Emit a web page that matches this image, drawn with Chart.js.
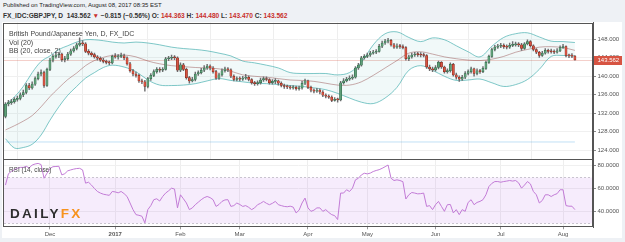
<!DOCTYPE html>
<html>
<head>
<meta charset="utf-8">
<script src="https://cdn.jsdelivr.net/npm/chart.js@4.4.1/dist/chart.umd.min.js"></script>
<style>
html, body { margin: 0; padding: 0; }
body { width: 625px; height: 242px; background: #eef1f5; position: relative; overflow: hidden; font-family: 'Liberation Sans', Arial, sans-serif; }
#panel { position: absolute; left: 2px; top: 22px; width: 620px; height: 216px; background: #fff; }
.hdr { position: absolute; left: 3px; font-size: 6.6px; line-height: 7px; font-weight: bold; color: #333; white-space: nowrap; }
.red { color: #c9302c; }
.leg { position: absolute; left: 9px; font-size: 7px; line-height: 7px; color: #444; white-space: nowrap; }
#c1 { position: absolute; left: 0; top: 22px; }
#c2 { position: absolute; left: 0; top: 159px; }
#logo { position: absolute; left: 10px; top: 206.5px; font-size: 13.5px; line-height: 14px; font-weight: bold; letter-spacing: 2.3px; color: #2e2e2e; }
#logo span { color: #f7931e; }
</style>
</head>
<body>
<div id="panel"></div>
<div class="hdr" style="top:2px;font-size:6px;font-weight:normal;color:#222">Published on TradingView.com, August 08, 2017 08:35 EST</div>
<div class="hdr" style="top:12px">FX_IDC:GBPJPY, D&nbsp; 143.562 <span class="red">▼</span> −0.815 (−0.56%) O: <span class="red">144.363</span> H: <span class="red">144.480</span> L: <span class="red">143.470</span> C: <span class="red">143.562</span></div>
<canvas id="c1" width="625" height="138"></canvas>
<canvas id="c2" width="625" height="83"></canvas>
<div class="leg" style="top:30.3px">British Pound/Japanese Yen, D, FX_IDC</div>
<div class="leg" style="top:38.6px">Vol (20)</div>
<div class="leg" style="top:47.2px">BB (20, close, 2)</div>
<div class="leg" style="top:165.5px;font-size:6.4px">RSI (14, close)</div>
<div id="logo">DAILY<span>FX</span></div>
<script>
// ===== datos: barras diarias 10 nov 2016 -> 8 ago 2017 (indice = barra) =====
const monthTicks = [15, 37, 59, 79, 102, 122, 145, 167, 188];
const monthLabels = ["Dec", "2017", "Feb", "Mar", "Apr", "May", "Jun", "Jul", "Aug"];
const priceTicks = [124, 128, 132, 136, 140, 144, 148];
const rsiTicks = [40, 60, 80];
const rsiBand = [30, 70];
const lastClose = 143.562;

const open = [
131.3,134.0,134.3,134.5,135.0,135.2,136.0,136.5,138.0,137.5,
138.3,139.5,140.5,140.8,138.0,141.5,143.5,144.3,144.6,144.8,
143.6,143.8,144.8,145.5,146.0,146.8,147.2,147.0,145.4,145.0,
144.7,144.2,143.9,143.5,143.2,143.0,142.9,144.3,144.2,144.3,
144.4,144.0,142.7,141.2,140.5,140.2,139.0,138.8,137.8,139.5,
140.2,141.0,141.5,141.3,141.5,143.8,143.9,144.1,144.0,141.3,
142.5,141.5,139.7,139.0,139.3,140.5,140.8,141.3,141.8,142.2,
141.8,141.0,139.6,140.3,141.2,141.6,141.4,140.0,139.3,139.5,
139.4,139.6,139.8,139.3,138.6,138.4,138.6,139.2,139.5,139.3,
138.6,138.9,139.0,138.5,138.0,137.8,137.7,137.5,137.6,137.3,
137.5,138.5,139.0,137.6,137.0,136.8,137.0,136.6,135.9,135.7,
135.5,134.8,135.0,134.9,138.6,139.0,139.4,139.6,139.8,141.8,
142.4,144.0,144.3,144.6,145.0,145.2,145.4,146.5,147.2,147.6,
147.8,146.8,146.3,146.5,146.4,146.2,143.8,144.2,144.6,144.8,
144.7,144.6,144.5,142.0,141.6,141.4,141.9,143.0,142.0,141.0,
141.2,142.6,140.3,139.8,139.4,139.8,140.6,141.0,141.6,140.6,
141.2,141.0,141.7,143.0,144.3,145.8,146.3,146.5,146.7,146.4,
146.3,146.7,146.8,147.0,146.8,146.0,147.0,147.5,146.6,145.8,
145.2,144.5,145.0,145.6,145.4,145.3,145.2,145.5,146.2,146.4,
144.5,144.4,144.363
];
const high = [
134.3,134.8,135.0,135.4,135.7,136.4,137.0,138.4,138.5,138.8,
139.9,140.9,141.4,141.1,141.8,143.9,144.7,145.1,145.2,145.0,
144.3,145.2,145.9,146.4,147.2,148.3,147.7,147.3,145.8,145.3,
145.0,144.5,144.2,143.9,143.5,143.3,144.6,144.9,144.7,145.0,
144.8,144.2,143.0,141.5,140.9,140.5,139.4,139.1,139.8,140.6,
141.4,141.9,141.9,141.9,144.1,144.3,144.6,144.5,144.2,142.9,
142.8,141.8,140.0,139.8,140.9,141.2,141.7,142.3,142.6,142.5,
142.1,141.3,140.7,141.6,142.0,141.9,141.6,140.3,139.9,139.9,
140.0,140.4,140.1,139.5,138.9,139.0,139.6,139.9,139.9,139.5,
139.3,139.5,139.2,138.8,138.3,138.1,138.0,138.0,137.9,137.9,
138.9,139.4,139.2,137.9,137.3,137.4,137.3,136.9,136.2,136.0,
135.8,135.4,135.3,138.9,139.5,139.8,140.1,140.3,142.1,142.8,
144.3,144.7,145.0,145.4,145.6,145.8,146.9,147.6,148.0,148.2,
148.0,147.1,147.0,146.9,146.8,146.4,144.6,145.0,145.2,145.2,
145.1,145.0,144.7,142.4,142.0,142.3,143.3,143.2,142.2,141.6,
142.9,142.8,140.7,140.1,140.2,141.0,141.4,142.0,141.8,141.6,
141.5,142.1,143.3,144.6,146.1,146.7,146.9,147.1,147.0,146.8,
147.2,147.5,147.4,147.3,147.1,147.3,147.9,147.7,146.8,146.0,
145.4,145.4,146.0,145.9,145.9,145.7,146.0,146.6,146.9,146.6,
144.8,144.9,144.48
];
const low = [
131.0,133.6,133.9,134.2,134.6,134.9,135.6,136.2,137.1,137.2,
138.0,139.2,140.1,137.6,137.8,141.2,143.1,143.9,144.0,143.2,
143.1,143.5,144.5,145.2,145.7,146.5,146.6,145.1,144.6,144.3,
143.9,143.5,143.2,142.9,142.7,142.5,142.7,143.9,143.7,144.0,
143.6,142.4,140.9,140.1,139.8,138.7,138.4,136.8,137.5,139.1,
139.9,140.7,140.9,141.0,141.3,143.4,143.6,143.6,141.0,141.0,
141.2,139.4,138.5,138.8,139.0,140.2,140.5,141.0,141.5,141.4,
140.7,139.3,139.3,140.0,140.9,141.0,139.7,139.0,139.0,139.0,
139.1,139.3,139.0,138.3,138.0,138.1,138.3,138.9,139.0,138.3,
138.3,138.4,138.1,137.7,137.4,137.3,137.2,137.2,137.0,137.0,
137.2,138.2,137.3,136.6,136.4,136.5,136.2,135.6,135.3,135.2,
134.5,134.6,134.4,134.7,138.3,138.8,139.1,139.3,139.6,141.5,
142.2,143.7,144.0,144.3,144.8,144.9,145.2,146.2,146.9,147.2,
146.5,146.0,146.0,146.0,145.9,143.5,143.4,143.9,144.3,144.3,
144.2,144.2,141.7,141.2,141.0,141.1,141.6,141.7,140.7,140.7,
140.9,140.0,139.4,138.9,139.1,139.5,140.3,140.7,140.0,140.3,
140.6,140.8,141.5,142.8,144.1,145.5,146.0,146.2,146.0,145.9,
146.0,146.4,146.5,146.4,145.6,145.8,146.8,146.3,145.5,144.9,
144.1,144.3,144.8,145.0,145.0,144.9,145.0,145.3,146.0,144.2,
144.0,144.0,143.47
];
const close = [
134.0,134.3,134.5,135.0,135.2,136.0,136.5,138.0,137.5,138.3,
139.5,140.5,140.8,138.0,141.5,143.5,144.3,144.6,144.8,143.6,
143.8,144.8,145.5,146.0,146.8,147.2,147.0,145.4,145.0,144.7,
144.2,143.9,143.5,143.2,143.0,142.9,144.3,144.2,144.3,144.4,
144.0,142.7,141.2,140.5,140.2,139.0,138.8,137.8,139.5,140.2,
141.0,141.5,141.3,141.5,143.8,143.9,144.1,144.0,141.3,142.5,
141.5,139.7,139.0,139.3,140.5,140.8,141.3,141.8,142.2,141.8,
141.0,139.6,140.3,141.2,141.6,141.4,140.0,139.3,139.5,139.4,
139.6,139.8,139.3,138.6,138.4,138.6,139.2,139.5,139.3,138.6,
138.9,139.0,138.5,138.0,137.8,137.7,137.5,137.6,137.3,137.5,
138.5,139.0,137.6,137.0,136.8,137.0,136.6,135.9,135.7,135.5,
134.8,135.0,134.9,138.6,139.0,139.4,139.6,139.8,141.8,142.4,
144.0,144.3,144.6,145.0,145.2,145.4,146.5,147.2,147.6,147.8,
146.8,146.3,146.5,146.4,146.2,143.8,144.2,144.6,144.8,144.7,
144.6,144.5,142.0,141.6,141.4,141.9,143.0,142.0,141.0,141.2,
142.6,140.3,139.8,139.4,139.8,140.6,141.0,141.6,140.6,141.2,
141.0,141.7,143.0,144.3,145.8,146.3,146.5,146.7,146.4,146.3,
146.7,146.8,147.0,146.8,146.0,147.0,147.5,146.6,145.8,145.2,
144.5,145.0,145.6,145.4,145.3,145.2,145.5,146.2,146.4,144.5,
144.4,144.363,143.562
];

const bbIdx = [0,3,6,9,12,15,18,21,24,27,30,33,36,40,44,48,52,56,60,64,68,72,76,80,84,88,92,96,100,104,108,112,116,120,124,128,132,136,140,144,148,152,156,160,164,168,172,176,180,184,188,192];
const bbUpper = [133.8,135.5,137.8,140.8,143.2,144.4,145.8,146.6,147.4,147.9,147.9,147.7,147.4,147.2,147.4,147.2,146.8,146.3,146.0,145.8,145.5,145.0,144.4,143.3,142.9,142.4,141.8,140.8,140.6,140.6,140.6,140.3,140.8,143.0,146.8,149.2,149.6,148.4,147.5,148.3,147.9,146.6,145.3,144.2,146.5,148.4,149.2,149.4,148.5,147.6,147.5,147.3];
const bbMid = [128.4,129.3,130.3,131.5,133.4,135.6,137.5,139.3,140.7,142.3,143.4,144.1,144.5,144.6,144.2,143.3,142.7,142.3,142.1,141.9,141.8,141.6,141.1,140.3,140.0,139.8,139.5,139.2,139.1,138.9,138.5,138.1,138.1,138.8,140.2,141.8,143.4,145.0,145.3,144.8,144.2,143.8,143.5,143.4,143.7,144.3,145.2,145.8,146.3,146.4,146.2,145.6];
const bbLower = [126.5,124.5,124.6,125.3,127.3,130.5,133.4,135.9,137.8,139.6,140.8,141.9,142.4,142.0,141.0,139.2,138.1,138.0,138.1,138.4,139.0,139.5,139.1,138.8,138.5,138.4,138.2,138.0,137.8,137.5,137.1,136.3,135.3,134.4,134.1,135.3,137.6,141.3,142.3,141.3,140.0,139.1,139.2,139.4,138.6,137.8,138.2,139.3,141.5,144.3,144.5,144.4];

const rsi = [
63,73,75,76.5,77.7,78.5,78.5,79.5,78,80.6,
81.5,82,81,69,73.4,77.5,79.1,79.3,79.5,71.9,
73,75.5,76.3,77,77.5,77.7,76.3,64.7,65.5,63,
60,57.4,56,55,54.5,54,57.4,57,56.2,57.4,
55.5,53,47.3,41.5,37.1,36.5,35.7,29.9,41.5,45,
50.2,51,49,53,56,58,60.3,59.5,43,54.5,
51,47.3,41.5,43,45.8,48,50.2,52,53,52,
50.2,44.3,46,48.7,50,50.2,44.3,45,47.3,46,
44.3,45,43.5,41.5,43,45.8,47,48.7,47,45.8,
47,48.7,45.8,45,44.3,44,44.5,43.7,38.6,41,
47.3,51.6,43,40,41,43,43,40,41.5,39,
37.1,36.2,32.8,56,56,58.9,57.4,60.3,67.6,69,
71.9,73.4,72.8,73.5,74.9,75.8,76.5,77.7,79.1,80.6,
69,67,67.6,67,66,50.8,54.5,56.5,56,55.3,
55.5,56,44.3,45,41.5,45.8,48.7,44.3,40,45.8,
46,38.6,41.5,37.1,41.5,40,47.8,50.2,45.8,47.8,
48.7,50.2,54.5,61.7,64.5,66.1,66.1,65.5,66.1,66.5,
67,66.5,67,65,60.3,63,66.1,64,57.4,54.5,
47.3,49.5,54.5,54.5,53,54.5,55.5,58.9,58.9,45,
44.5,44.5,41.5
];

// =============================
// ESTILO
// =============================
Chart.defaults.font.family = "'Liberation Sans', Arial, sans-serif";
Chart.defaults.font.size = 6;
Chart.defaults.color = "#555";

const X_MIN = -0.5;
const X_MAX = 198.1;
const EJE_DERECHO = 32;

const marco = {
    id: "marco",
    afterDraw(chart) {
        const a = chart.chartArea;
        const ctx = chart.ctx;
        ctx.save();
        ctx.strokeStyle = "#555";
        ctx.lineWidth = 1;
        ctx.strokeRect(Math.round(a.left) - 0.5, Math.round(a.top) + 0.5, Math.round(a.right - a.left), Math.round(a.bottom - a.top) - 1);
        ctx.restore();
    }
};

const ultimoPrecio = {
    id: "ultimoPrecio",
    beforeDatasetsDraw(chart) {
        const a = chart.chartArea;
        const y = Math.round(chart.scales.y.getPixelForValue(lastClose)) + 0.5;
        const ctx = chart.ctx;
        ctx.save();
        ctx.strokeStyle = "rgba(215,84,66,0.28)";
        ctx.lineWidth = 1;
        ctx.beginPath();
        ctx.moveTo(a.left, y);
        ctx.lineTo(a.right, y);
        ctx.stroke();
        ctx.restore();
    },
    afterDraw(chart) {
        const a = chart.chartArea;
        const y = chart.scales.y.getPixelForValue(lastClose);
        const ctx = chart.ctx;
        ctx.save();
        ctx.fillStyle = "#d75442";
        ctx.fillRect(a.right + 1, Math.round(y) - 4, 28, 9);
        ctx.fillStyle = "#fff";
        ctx.font = "6px 'Liberation Sans', Arial, sans-serif";
        ctx.textBaseline = "middle";
        ctx.fillText(lastClose.toFixed(3), a.right + 4.5, Math.round(y) + 0.5);
        ctx.restore();
    }
};

const bandaRsi = {
    id: "bandaRsi",
    beforeDatasetsDraw(chart) {
        const a = chart.chartArea;
        const s = chart.scales.y;
        const yTop = Math.round(s.getPixelForValue(rsiBand[1])) + 0.5;
        const yBot = Math.round(s.getPixelForValue(rsiBand[0])) + 0.5;
        const ctx = chart.ctx;
        ctx.save();
        ctx.fillStyle = "rgba(178,102,230,0.12)";
        ctx.fillRect(a.left, yTop, a.right - a.left, yBot - yTop);
        ctx.strokeStyle = "#c9c4cf";
        ctx.setLineDash([2, 2]);
        ctx.lineWidth = 1;
        ctx.beginPath();
        ctx.moveTo(a.left, yTop); ctx.lineTo(a.right, yTop);
        ctx.moveTo(a.left, yBot); ctx.lineTo(a.right, yBot);
        ctx.stroke();
        ctx.restore();
    }
};

function ejeX(conEtiquetas) {
    return {
        type: "linear",
        min: X_MIN,
        max: X_MAX,
        offset: false,
        afterBuildTicks: s => { s.ticks = monthTicks.map(v => ({ value: v })); },
        grid: { color: "#eeeeee", drawTicks: conEtiquetas, tickLength: 2, tickColor: "#999" },
        border: { display: false },
        ticks: {
            display: conEtiquetas,
            autoSkip: false,
            maxRotation: 0,
            padding: 1,
            color: "#555",
            font: c => ({ size: 6, weight: c.index === 1 ? "bold" : "normal" }),
            callback: (v, i) => monthLabels[i]
        },
        afterFit: s => {
            s.height = conEtiquetas ? 14.7 : 0;
            s.paddingLeft = 0;
            s.paddingRight = 0;
        }
    };
}

function ejeY(min, max, marcas, decimales) {
    return {
        position: "right",
        min: min,
        max: max,
        afterBuildTicks: s => { s.ticks = marcas.map(v => ({ value: v })); },
        ticks: { callback: v => v.toFixed(decimales), padding: 1.5, color: "#555" },
        grid: { color: "#f0f0f0", tickColor: "#888", tickLength: 3 },
        border: { color: "#555" },
        afterFit: s => {
            s.width = EJE_DERECHO;
            s.paddingTop = 0;
            s.paddingBottom = 0;
        }
    };
}

// =============================
// GRAFICA DE PRECIO
// =============================
const sube = close.map((c, i) => c >= open[i]);

new Chart(document.getElementById("c1"), {
    type: "bar",
    data: {
        datasets: [
            {
                type: "bar",
                label: "cuerpo",
                data: close.map((c, i) => ({ x: i, y: [open[i], c] })),
                backgroundColor: sube.map(u => u ? "#5f9f78" : "#d75442"),
                borderColor: sube.map(u => u ? "#2d6144" : "#7a2418"),
                borderWidth: 0.5,
                borderSkipped: false,
                barThickness: 2.2,
                minBarLength: 1,
                grouped: false,
                order: 1
            },
            {
                type: "bar",
                label: "mecha",
                data: high.map((h, i) => ({ x: i, y: [low[i], h] })),
                backgroundColor: "#6e6e70",
                barThickness: 0.8,
                grouped: false,
                order: 2
            },
            {
                type: "line",
                label: "BB superior",
                data: bbIdx.map((x, k) => ({ x: x, y: bbUpper[k] })),
                borderColor: "rgba(60,170,170,0.65)",
                backgroundColor: "rgba(60,170,170,0.07)",
                borderWidth: 1,
                pointRadius: 0,
                tension: 0.35,
                fill: "+1",
                order: 3
            },
            {
                type: "line",
                label: "BB inferior",
                data: bbIdx.map((x, k) => ({ x: x, y: bbLower[k] })),
                borderColor: "rgba(60,170,170,0.65)",
                borderWidth: 1,
                pointRadius: 0,
                tension: 0.35,
                fill: false,
                order: 4
            },
            {
                type: "line",
                label: "BB media",
                data: bbIdx.map((x, k) => ({ x: x, y: bbMid[k] })),
                borderColor: "rgba(150,60,60,0.45)",
                borderWidth: 1,
                pointRadius: 0,
                tension: 0.35,
                fill: false,
                order: 5
            },
            {
                type: "line",
                label: "Vol MA",
                yAxisID: "yv",
                data: [{ x: 0, y: 0 }, { x: close.length - 1, y: 0 }],
                borderColor: "rgba(80,170,230,0.35)",
                borderWidth: 1,
                pointRadius: 0,
                fill: false,
                order: 6
            }
        ]
    },
    options: {
        responsive: false,
        animation: false,
        layout: { padding: { left: 4, top: 0.5, bottom: 0.7, right: 0 } },
        plugins: { legend: { display: false }, tooltip: { enabled: false } },
        scales: {
            x: ejeX(false),
            y: ejeY(122.05, 151.63, priceTicks, 3),
            yv: { display: false, min: -1, max: 6.9 }
        }
    },
    plugins: [ultimoPrecio, marco]
});

// =============================
// GRAFICA RSI
// =============================
new Chart(document.getElementById("c2"), {
    type: "line",
    data: {
        datasets: [{
            label: "RSI",
            data: rsi.map((v, i) => ({ x: i, y: v })),
            borderColor: "#c27bd6",
            borderWidth: 1,
            pointRadius: 0,
            tension: 0,
            fill: false
        }]
    },
    options: {
        responsive: false,
        animation: false,
        layout: { padding: { left: 4, top: 0.3, bottom: 0, right: 0 } },
        plugins: { legend: { display: false }, tooltip: { enabled: false } },
        scales: {
            x: ejeX(true),
            y: ejeY(26, 85.6, rsiTicks, 4)
        }
    },
    plugins: [bandaRsi, marco]
});
</script>
</body>
</html>
